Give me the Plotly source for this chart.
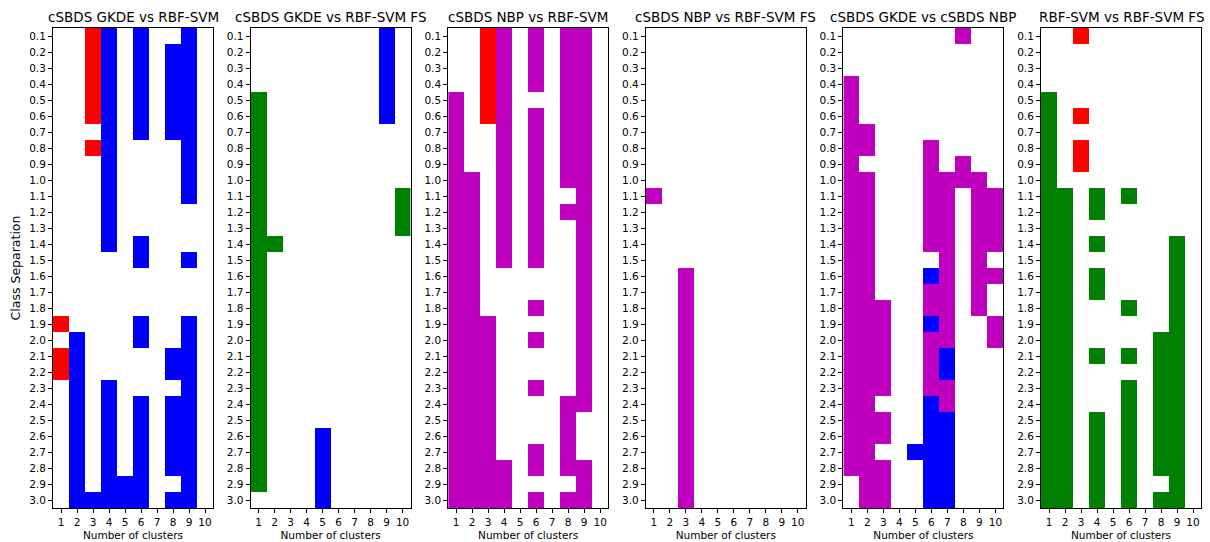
import plotly.graph_objects as go

# Cell codes: '.' = no difference, 'R' = red, 'B' = blue, 'G' = green, 'M' = magenta
clusters = list(range(1, 11))
separations = [f"{v / 10:.1f}" for v in range(1, 31)]
titles = [
    "cSBDS GKDE vs RBF-SVM",
    "cSBDS GKDE vs RBF-SVM FS",
    "cSBDS NBP vs RBF-SVM",
    "cSBDS NBP vs RBF-SVM FS",
    "cSBDS GKDE vs cSBDS NBP",
    "RBF-SVM vs RBF-SVM FS",
]

gkde_vs_svm = [
    "..RB.B..B.", "..RB.B.BB.", "..RB.B.BB.", "..RB.B.BB.", "..RB.B.BB.",
    "..RB.B.BB.", "...B.B.BB.", "..RB....B.", "...B....B.", "...B....B.",
    "...B....B.", "...B......", "...B......", "...B.B....", ".....B..B.",
    "..........", "..........", "..........", "R....B..B.", ".B...B..B.",
    "RB.....BB.", "RB.....BB.", ".B.B....B.", ".B.B.B.BB.", ".B.B.B.BB.",
    ".B.B.B.BB.", ".B.B.B.BB.", ".B.B.B.BB.", ".B.BBB..B.", ".BBBBB.BB.",
]
gkde_vs_svm_fs = [
    "........B.", "........B.", "........B.", "........B.", "G.......B.",
    "G.......B.", "G.........", "G.........", "G.........", "G.........",
    "G........G", "G........G", "G........G", "GG........", "G.........",
    "G.........", "G.........", "G.........", "G.........", "G.........",
    "G.........", "G.........", "G.........", "G.........", "G.........",
    "G...B.....", "G...B.....", "G...B.....", "G...B.....", "....B.....",
]
nbp_vs_svm = [
    "..RM.M.MM.", "..RM.M.MM.", "..RM.M.MM.", "..RM.M.MM.", "M.RM...MM.",
    "M.RM.M.MM.", "M..M.M.MM.", "M..M.M.MM.", "M..M.M.MM.", "MM.M.M.MM.",
    "MM.M.M..M.", "MM.M.M.MM.", "MM.M.M..M.", "MM.M.M..M.", "MM.M.M..M.",
    "MM......M.", "MM......M.", "MM...M..M.", "MMM.....M.", "MMM..M..M.",
    "MMM.....M.", "MMM.....M.", "MMM..M..M.", "MMM....MM.", "MMM....M..",
    "MMM....M..", "MMM..M.M..", "MMMM.M.MM.", "MMMM....M.", "MMMM.M.MM.",
]
nbp_vs_svm_fs = [
    "..........", "..........", "..........", "..........", "..........",
    "..........", "..........", "..........", "..........", "..........",
    "M.........", "..........", "..........", "..........", "..........",
    "..M.......", "..M.......", "..M.......", "..M.......", "..M.......",
    "..M.......", "..M.......", "..M.......", "..M.......", "..M.......",
    "..M.......", "..M.......", "..M.......", "..M.......", "..M.......",
]
gkde_vs_nbp = [
    ".......M..", "..........", "..........", "M.........", "M.........",
    "M.........", "MM........", "MM...M....", "M....M.M..", "MM...MMMM.",
    "MM...MM.MM", "MM...MM.MM", "MM...MM.MM", "MM...MM.MM", "MM....M.M.",
    "MM...BM.MM", "MM...MM.M.", "MMM..MM.M.", "MMM..BM..M", "MMM..MM..M",
    "MMM..MB...", "MMM..MB...", "MMM..MM...", "MM...BM...", "MMM..BB...",
    "MMM..BB...", "MM..BBB...", "MMM..BB...", ".MM..BB...", ".MM..BB...",
]
svm_vs_svm_fs = [
    "..R.......", "..........", "..........", "..........", "G.........",
    "G.R.......", "G.........", "G.R.......", "G.R.......", "G.........",
    "GG.G.G....", "GG.G......", "GG........", "GG.G....G.", "GG......G.",
    "GG.G....G.", "GG.G....G.", "GG...G..G.", "GG......G.", "GG.....GG.",
    "GG.G.G.GG.", "GG.....GG.", "GG...G.GG.", "GG...G.GG.", "GG.G.G.GG.",
    "GG.G.G.GG.", "GG.G.G.GG.", "GG.G.G.GG.", "GG.G.G..G.", "GG.G.G.GG.",
]
panels = [gkde_vs_svm, gkde_vs_svm_fs, nbp_vs_svm, nbp_vs_svm_fs, gkde_vs_nbp, svm_vs_svm_fs]

codes = {".": 0, "R": 1, "B": 2, "G": 3, "M": 4}
palette = ["#ffffff", "#ff0000", "#0000ff", "#008000", "#bf00bf"]
n = len(palette)
colorscale = []
for i, c in enumerate(palette):
    colorscale.append([i / n, c])
    colorscale.append([(i + 1) / n, c])

W, H = 1210, 542
left0, step, pw = 53, 197.6, 160
top, bottom = 28, 508
font = "DejaVu Sans"

fig = go.Figure()
annotations = []
for k, (grid, title) in enumerate(zip(panels, titles)):
    z = [[codes[ch] for ch in row] for row in grid]
    ax = "" if k == 0 else str(k + 1)
    fig.add_trace(go.Heatmap(
        z=z, x=clusters, y=separations,
        colorscale=colorscale, zmin=-0.5, zmax=n - 0.5,
        showscale=False, xgap=0, ygap=0,
        xaxis="x" + ax, yaxis="y" + ax,
        hoverinfo="skip",
    ))
    x0 = left0 + k * step
    dom_x = [x0 / W, (x0 + pw) / W]
    dom_y = [1 - bottom / H, 1 - top / H]
    common = dict(
        showline=True, mirror=True, linecolor="black", linewidth=1,
        ticks="outside", ticklen=4, tickcolor="black", showgrid=False,
        zeroline=False, tickfont=dict(family=font, size=10.5, color="black"),
    )
    fig.update_layout(**{
        "xaxis" + ax: dict(
            domain=dom_x, anchor="y" + ax, range=[0.5, 10.5],
            tickvals=clusters, ticktext=[str(c) for c in clusters],
            title=dict(text="Number of clusters", standoff=5,
                       font=dict(family=font, size=10.5, color="black")),
            **common,
        ),
        "yaxis" + ax: dict(
            domain=dom_y, anchor="x" + ax, autorange="reversed",
            type="category",
            title=dict(text="Class Separation" if k == 0 else "",
                       standoff=5, font=dict(family=font, size=12.5, color="black")),
            **common,
        ),
    })
    annotations.append(dict(
        text=title, x=(x0 + pw / 2) / W, y=1 - 17 / H, xref="paper", yref="paper",
        xanchor="center", yanchor="middle", showarrow=False,
        font=dict(family=font, size=13.5, color="black"),
    ))

fig.update_layout(
    width=W, height=H, margin=dict(l=0, r=0, t=0, b=0),
    paper_bgcolor="white", plot_bgcolor="white",
    annotations=annotations, showlegend=False,
)
fig.write_html("out.html")
